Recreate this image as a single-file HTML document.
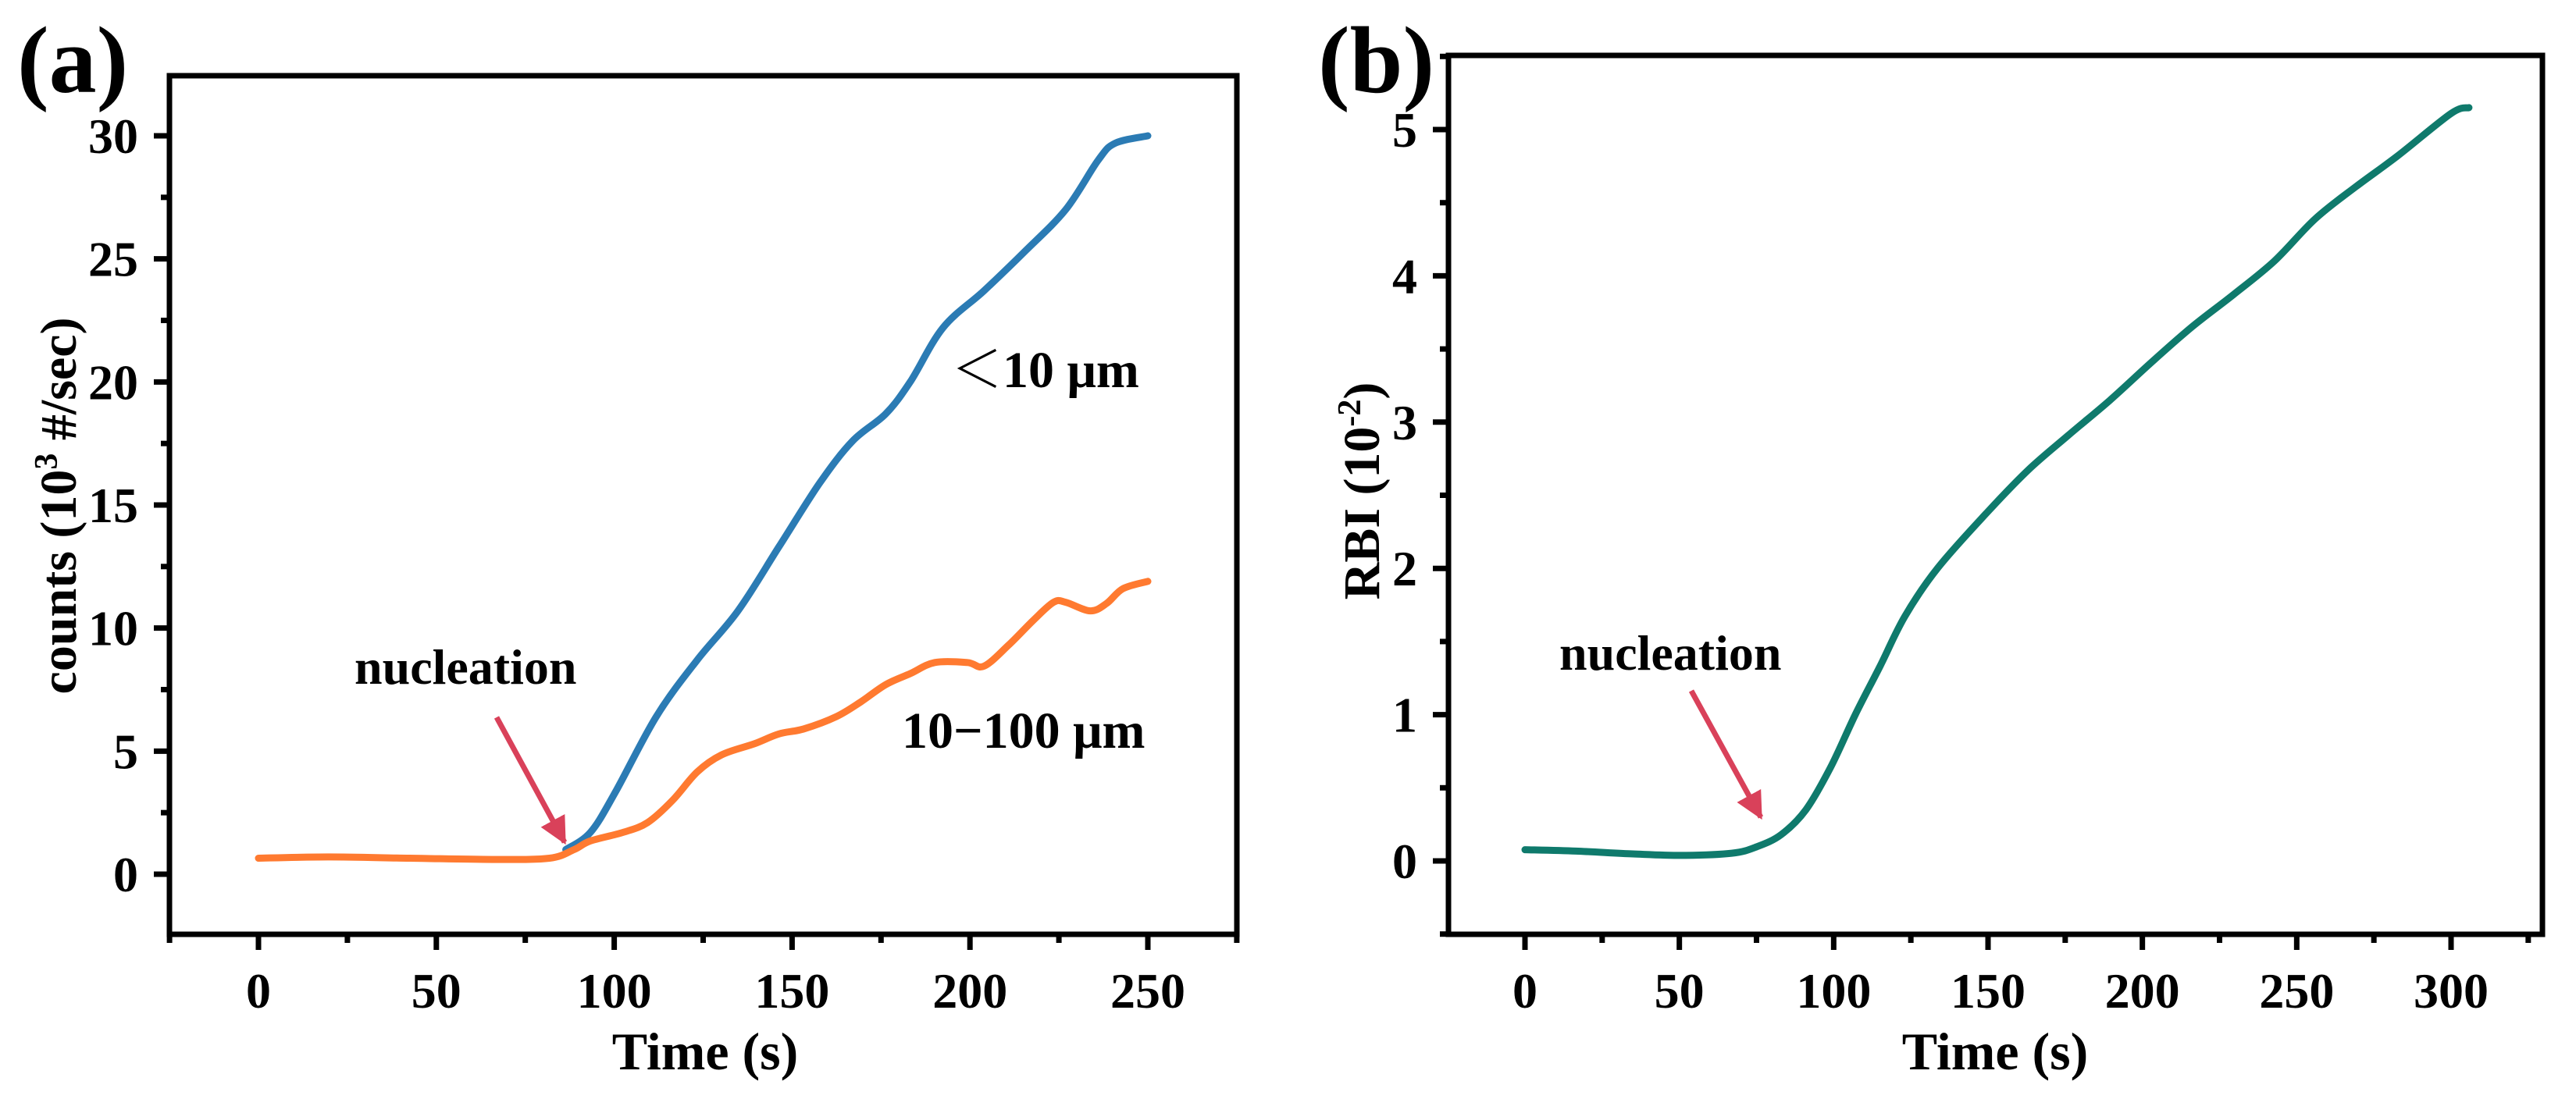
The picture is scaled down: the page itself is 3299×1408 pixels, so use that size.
<!DOCTYPE html>
<html><head><meta charset="utf-8"><style>
html,body{margin:0;padding:0;background:#fff;}
svg{display:block;}
text{font-family:"Liberation Serif","Noto Serif CJK SC","Times New Roman",serif;font-weight:bold;fill:#000;}
</style></head><body>
<svg id="fig" width="3299" height="1408" viewBox="0 0 3299 1408" xmlns="http://www.w3.org/2000/svg">
<defs><marker id="ah" viewBox="0 0 10 10" refX="9" refY="5" markerWidth="5" markerHeight="5" orient="auto"><path d="M0,0 L10,5 L0,10 z" fill="#d9415a"/></marker></defs>
</svg>
<script>
// Panel (a) data
const aTimeBlue = [86.4,93.3,100.2,111.8,123.3,134.8,146.3,157.8,167,176.3,183.2,192.4,203.9,215.4,226.9,236,240.8,250];
const aCountsBlue = [1.0,1.7,3.3,6.4,8.7,10.7,13.3,15.9,17.6,18.7,20.0,22.2,23.7,25.3,27.0,29.0,29.7,30.0];
const aTimeOrange = [0,19.6,42.6,65.7,81.8,88.7,93.3,102.5,109.4,116.4,123.3,130.2,139.4,146.3,153.2,162.4,169.3,176.3,183.2,190.1,199.3,203.9,210.8,217.7,223.5,226.9,233.8,238.4,243,250];
const aCountsOrange = [0.65,0.7,0.65,0.6,0.65,1.0,1.35,1.7,2.1,3.0,4.15,4.85,5.3,5.7,5.9,6.4,7.0,7.7,8.15,8.6,8.6,8.45,9.3,10.3,11.05,11.05,10.7,11.0,11.6,11.9];
const aXTicks = [0,50,100,150,200,250];
const aYTicks = [0,5,10,15,20,25,30];
// Panel (b) data
const bTime = [0,16.5,35,51,67,75,83,91,99,107,115,123,133.6,149.6,162.9,176,189.5,203,216,229.4,242.7,256,269.2,282.7,300,305.8];
const bRBI = [0.077,0.067,0.048,0.038,0.053,0.096,0.18,0.35,0.64,1.0,1.33,1.67,2.0,2.38,2.67,2.91,3.15,3.41,3.65,3.87,4.1,4.39,4.61,4.82,5.11,5.15];
const bXTicks = [0,50,100,150,200,250,300];
const bYTicks = [0,1,2,3,4,5];

const NS='http://www.w3.org/2000/svg';
const svg=document.getElementById('fig');
function mk(tag,attrs,parent,txt){const e=document.createElementNS(NS,tag);for(const k in attrs)e.setAttribute(k,attrs[k]);if(txt!==undefined)e.textContent=txt;(parent||svg).appendChild(e);return e;}

function smoothPath(pts){
  let d='M'+pts[0][0].toFixed(1)+','+pts[0][1].toFixed(1);
  for(let i=0;i<pts.length-1;i++){
    const p0=pts[Math.max(0,i-1)],p1=pts[i],p2=pts[i+1],p3=pts[Math.min(pts.length-1,i+2)];
    const c1=[p1[0]+(p2[0]-p0[0])/6,p1[1]+(p2[1]-p0[1])/6];
    const c2=[p2[0]-(p3[0]-p1[0])/6,p2[1]-(p3[1]-p1[1])/6];
    d+=' C'+c1[0].toFixed(1)+','+c1[1].toFixed(1)+' '+c2[0].toFixed(1)+','+c2[1].toFixed(1)+' '+p2[0].toFixed(1)+','+p2[1].toFixed(1);
  }
  return d;
}

function panel(cfg){
  const g=mk('g',{});
  
  
  const X=v=>cfg.x0px+v*(cfg.x1px-cfg.x0px)/cfg.x1v;
  const Y=v=>cfg.y0px-v*(cfg.y0px-cfg.y1px)/cfg.y1v;
  const xs=(cfg.x1px-cfg.x0px)/cfg.x1v, ys=(cfg.y0px-cfg.y1px)/cfg.y1v;
  const xmin=(cfg.L-cfg.x0px)/xs, xmax=(cfg.R-cfg.x0px)/xs;
  for(let v=Math.ceil(xmin/cfg.xMinor)*cfg.xMinor; v<=xmax; v+=cfg.xMinor){
    const major=cfg.xTicks.includes(v);
    const t=mk('line',{x1:X(v),x2:X(v),y1:cfg.B,y2:cfg.B+(major?20:11),stroke:'#000','stroke-width':7},g);
    
    
  }
  cfg.xTicks.forEach(v=>{const t=mk('text',{x:X(v),y:cfg.B+94,'font-size':64,'text-anchor':'middle'},g,String(v));
    
    });
  const ymin=-(cfg.B-cfg.y0px)/ys, ymax=(cfg.y0px-cfg.T)/ys;
  for(let v=Math.ceil(ymin/cfg.yMinor)*cfg.yMinor; v<=ymax+1e-9; v+=cfg.yMinor){
    const vv=Math.round(v*100)/100;
    const major=cfg.yTicks.includes(vv);
    const t=mk('line',{x1:cfg.L,x2:cfg.L-(major?20:11),y1:Y(vv),y2:Y(vv),stroke:'#000','stroke-width':7},g);
    
    
  }
  cfg.yTicks.forEach(v=>{const t=mk('text',{x:cfg.L-40,y:Y(v)+22,'font-size':64,'text-anchor':'end'},g,String(v));
    
    });
  const f=mk('rect',{x:cfg.L,y:cfg.T,width:cfg.R-cfg.L,height:cfg.B-cfg.T,fill:'none',stroke:'#000','stroke-width':7},g);
  
  
  cfg.series.forEach(s=>{
    const pts=s.xs.map((x,i)=>[X(x),Y(s.ys[i])]);
    const p=mk('path',{d:smoothPath(pts),fill:'none',stroke:s.color,'stroke-width':9,'stroke-linejoin':'round','stroke-linecap':'round'},g);
    
    
  });
  return g;
}

panel({name:'panel-a',L:217,R:1584,T:97,B:1197,x0px:331,x1px:1470,x1v:250,y0px:1120,y1px:174,y1v:30,
  xMinor:25,yMinor:2.5,xTicks:aXTicks,yTicks:aYTicks,
  series:[{name:'series-below-10um',xs:aTimeBlue,ys:aCountsBlue,color:'#2b7bb4'},
          {name:'series-10-100um',xs:aTimeOrange,ys:aCountsOrange,color:'#ff7a30'}]});
panel({name:'panel-b',L:1855,R:3256,T:71,B:1197,x0px:1953,x1px:3139,x1v:300,y0px:1103,y1px:166,y1v:5,
  xMinor:25,yMinor:0.5,xTicks:bXTicks,yTicks:bYTicks,
  series:[{name:'series-rbi',xs:bTime,ys:bRBI,color:'#0f7a6c'}]});

function txt(name,attrs,s){const t=mk('text',attrs,svg,s);return t;}
txt('panel-a-label',{x:22,y:118,'font-size':122},'(a)');
txt('panel-b-label',{x:1688,y:118,'font-size':122},'(b)');
txt('x-axis-title-a',{x:903,y:1370,'font-size':68,'text-anchor':'middle'},'Time (s)');
txt('x-axis-title-b',{x:2555,y:1370,'font-size':68,'text-anchor':'middle'},'Time (s)');
const ya=txt('y-axis-title-a',{x:0,y:0,'font-size':66,'text-anchor':'middle',transform:'translate(97,648) rotate(-90)'},'');
ya.innerHTML='counts (10<tspan dy="-24" font-size="42">3</tspan><tspan dy="24"> #/sec)</tspan>';
const yb=txt('y-axis-title-b',{x:0,y:0,'font-size':66,'text-anchor':'middle',transform:'translate(1766,629) rotate(-90)'},'');
yb.innerHTML='RBI (10<tspan dy="-24" font-size="42">-2</tspan><tspan dy="24">)</tspan>';
txt('label-below-10um',{x:1218,y:496,'font-size':66},'＜10 μm');
txt('label-10-100um',{x:1155,y:958,'font-size':66},'10−100 μm');
txt('annotation-nucleation-a',{x:454,y:876,'font-size':64},'nucleation');
txt('annotation-nucleation-b',{x:1997,y:858,'font-size':64},'nucleation');
const a1=mk('line',{x1:636,y1:919,x2:723,y2:1079,stroke:'#d9415a','stroke-width':7,'marker-end':'url(#ah)'});


const a2=mk('line',{x1:2166,y1:885,x2:2255,y2:1047,stroke:'#d9415a','stroke-width':7,'marker-end':'url(#ah)'});


</script>
</body></html>
